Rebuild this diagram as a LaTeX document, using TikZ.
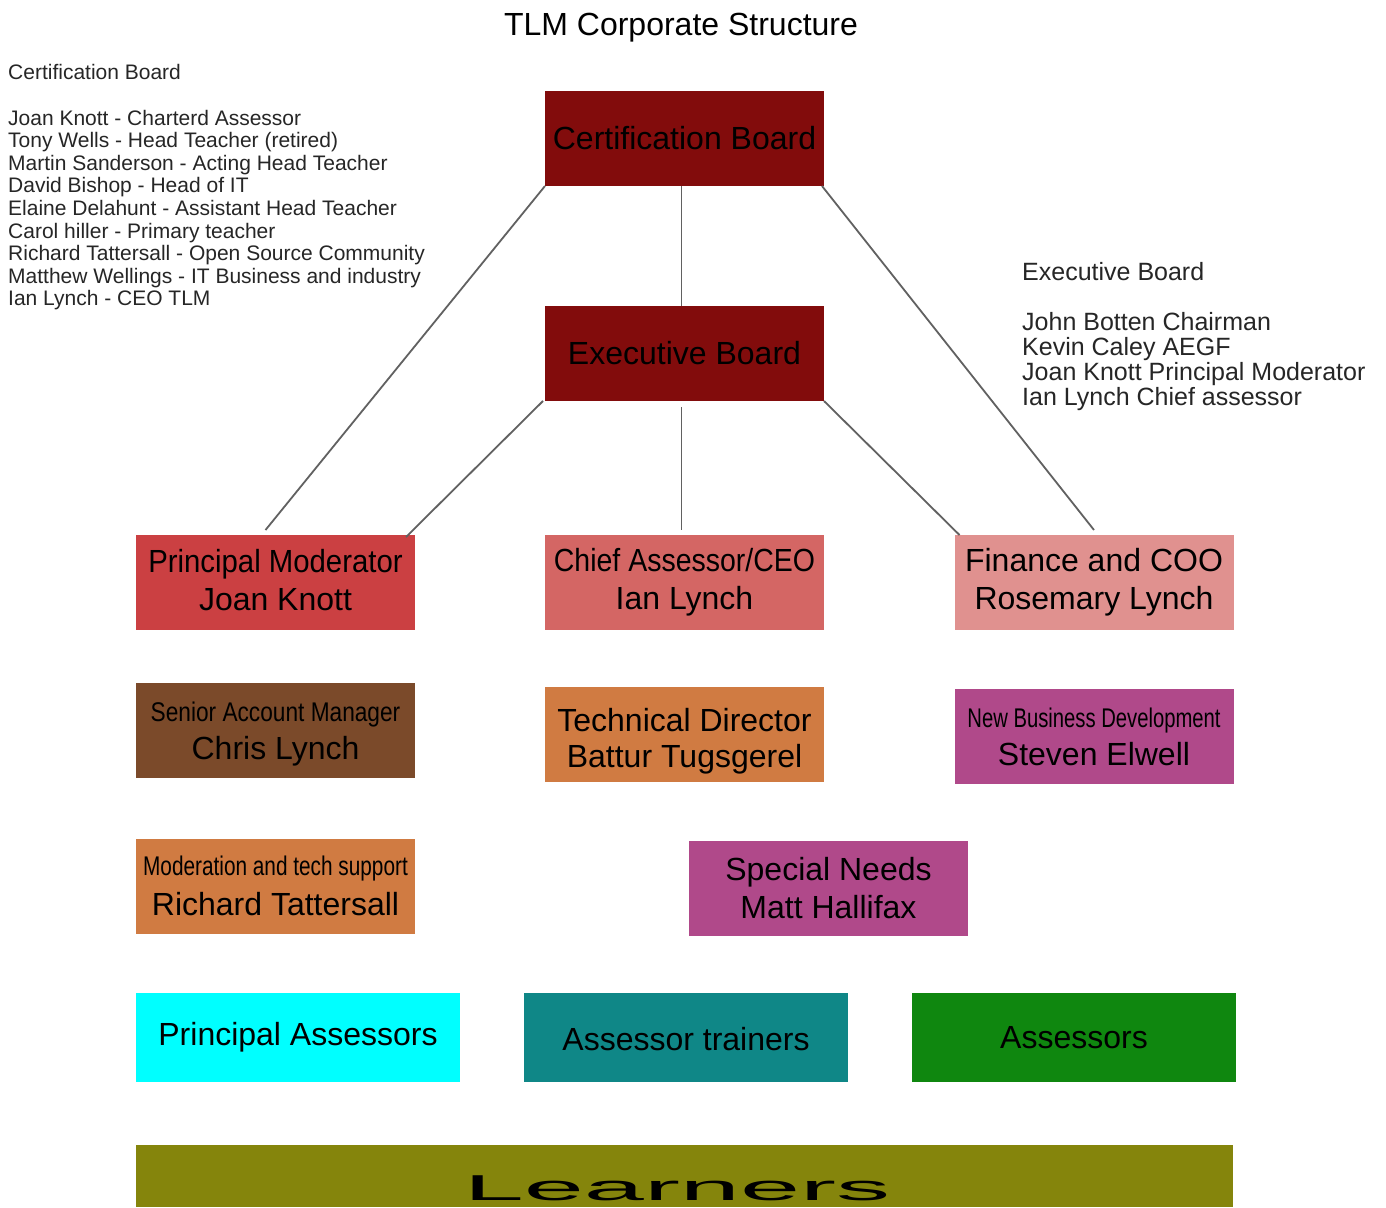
\documentclass[tikz,border=0pt]{standalone}
\usepackage{fontspec}
\setmainfont{Liberation Sans}
\definecolor{boardred}{HTML}{820C0C}
\definecolor{pmred}{HTML}{CB4042}
\definecolor{chiefred}{HTML}{D46664}
\definecolor{finpink}{HTML}{E0918F}
\definecolor{brownbox}{HTML}{7B4A2A}
\definecolor{orangebox}{HTML}{D07B42}
\definecolor{magentabox}{HTML}{B0498A}
\definecolor{cyanbox}{HTML}{00FFFF}
\definecolor{tealbox}{HTML}{0F8787}
\definecolor{greenbox}{HTML}{0F870F}
\definecolor{olivebox}{HTML}{85850C}
\begin{document}
\begin{tikzpicture}[x=1pt,y=-1pt,
  box/.style={minimum width=279pt, minimum height=95pt, inner sep=0pt, outer sep=0pt,
              align=center, font=\fontsize{32}{38}\selectfont, text=black},
  widebox/.style={box, minimum width=324pt, minimum height=89pt},
  conn/.style={draw=black!62, line width=1.8pt},
  note/.style={inner sep=0pt, anchor=north west, align=left, text=black!85}]
\clip (0,0) rectangle (1386,1207);
\fill[white] (0,0) rectangle (1386,1207);

\node[font=\fontsize{32}{38}\selectfont, inner sep=0pt] (title) at (681,28) {TLM Corporate Structure};

\node[note, font=\fontsize{21}{22.6}\selectfont] (certnote) at (8,64.5) {Certification Board\\[22.6pt]
Joan Knott - Charterd Assessor\\
Tony Wells - Head Teacher (retired)\\
Martin Sanderson - Acting Head Teacher\\
David Bishop - Head of IT\\
Elaine Delahunt - Assistant Head Teacher\\
Carol hiller - Primary teacher\\
Richard Tattersall - Open Source Community\\
Matthew Wellings - IT Business and industry\\
Ian Lynch - CEO TLM};

\node[note, font=\fontsize{25}{25}\selectfont] (execnote) at (1022,262) {Executive Board\\[25pt]
John Botten Chairman\\
Kevin Caley AEGF\\
Joan Knott Principal Moderator\\
Ian Lynch Chief assessor};

\node[box, fill=boardred] (cert) at (684.5,138.5) {Certification Board};
\node[box, fill=boardred] (exec) at (684.5,353.5) {Executive Board};

\node[box, fill=pmred] (pm) at (275.5,582.5) {\scalebox{0.917}[1]{Principal Moderator}\\Joan Knott\rule[-6pt]{0pt}{6pt}};
\node[box, fill=chiefred] (chief) at (684.5,582.5) {\scalebox{0.89}[1]{Chief Assessor/CEO}\\Ian Lynch};
\node[box, fill=finpink] (fin) at (1094,582.5) {Finance and COO\\Rosemary Lynch};

\node[box, fill=brownbox] (sam) at (275.5,730.5) {{\fontsize{27}{36}\selectfont\rule{0pt}{26pt}\scalebox{0.84}[1]{Senior Account Manager}}\\[0pt]Chris Lynch};
\node[box, fill=orangebox] (tech) at (684.5,734.5) {\rule{0pt}{37pt}Technical Director\\[-2pt]Battur Tugsgerel};
\node[box, fill=magentabox] (nbd) at (1094,736.5) {{\fontsize{27}{36}\selectfont\scalebox{0.75}[1]{New Business Development}}\\[0pt]Steven Elwell};

\node[box, fill=orangebox] (mod) at (275.5,886) {{\fontsize{27}{36}\selectfont\scalebox{0.77}[1]{Moderation and tech support}}\\[2pt]Richard Tattersall};
\node[box, fill=magentabox] (sn) at (828.5,888) {Special Needs\\Matt Hallifax};

\node[widebox, fill=cyanbox] (pa) at (298,1037.5) {Principal Assessors};
\node[widebox, fill=tealbox] (at) at (686,1037.5) {\rule{0pt}{26pt}Assessor trainers};
\node[widebox, fill=greenbox] (as) at (1074,1037.5) {Assessors};

\node[box, fill=olivebox, minimum width=1097pt, minimum height=62pt, text height=48pt, text depth=0pt] (learn) at (684.5,1176)
  {\scalebox{3.0}[1]{\fontsize{36}{40}\selectfont Learners}\hspace{15pt}};

\draw[conn] (cert.south west) -- ([xshift=-10pt,yshift=5pt]pm.north);
\draw[conn] ([xshift=-3pt]cert.south) -- ([xshift=-3pt]exec.north);
\draw[conn] ([xshift=-2pt]cert.south east) -- ([yshift=5pt]fin.north);
\draw[conn] ([xshift=-2pt]exec.south west) -- ([xshift=-9pt,yshift=-2pt]pm.north east);
\draw[conn] ([xshift=-3pt,yshift=-6pt]exec.south) -- ([xshift=-3pt,yshift=5pt]chief.north);
\draw[conn] (exec.south east) -- ([xshift=5pt]fin.north west);
\end{tikzpicture}
\end{document}
